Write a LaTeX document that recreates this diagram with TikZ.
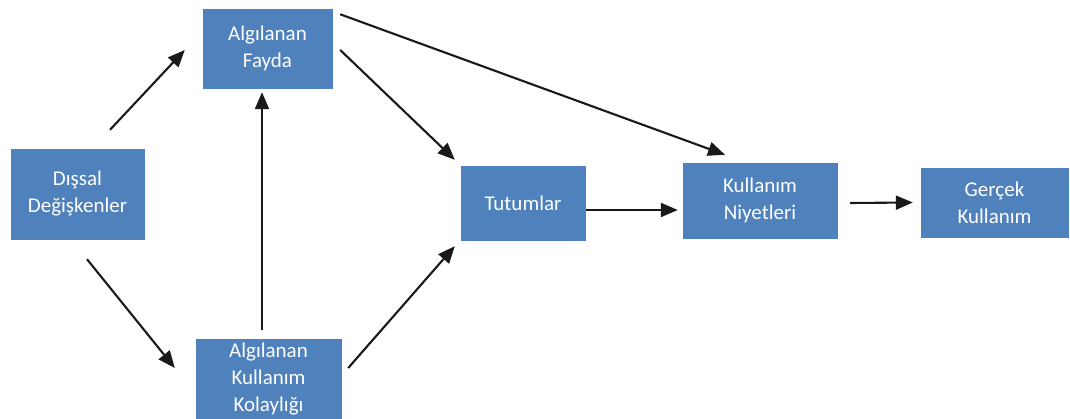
\documentclass[tikz,border=0pt]{standalone}
\usepackage{fontspec}
\setmainfont{Carlito}
\usepackage{xcolor}
\usetikzlibrary{arrows.meta}

\definecolor{tamblue}{HTML}{4F81BD}

\begin{document}
\begin{tikzpicture}[
    x=1pt, y=1pt,
    font=\fontsize{21}{27}\selectfont,
    box/.style={fill=tamblue, draw=tamblue, text=white, align=center,
                inner sep=0pt},
    link/.style={-{Triangle[length=17pt,width=14pt]}, line width=2.1pt,
                 black!90},
    ]
\useasboundingbox (0,0) rectangle (1070,419);

% ---- constructs ----
\node[box, minimum width=133, minimum height=90] (dissal) at (77.5,225) {Dışsal\\Değişkenler};
\node[box, minimum width=129, minimum height=79] (fayda) at (267.5,370.5) {Algılanan\\Fayda};
\node[box, minimum width=145, minimum height=80] (kolay) at (268.5,40) {Algılanan\\Kullanım\\Kolaylığı};
\node[box, minimum width=124, minimum height=74] (tutum) at (523,216) {Tutumlar};
\node[box, minimum width=154, minimum height=75] (niyet) at (760,218.5) {Kullanım\\Niyetleri};
\node[box, minimum width=147, minimum height=69] (gercek) at (994.5,216.5) {Gerçek\\Kullanım};

% ---- edges ----
\draw[link] ([xshift=32.5pt,yshift=19pt]dissal.north) -- ([xshift=-18pt,yshift=-1.5pt]fayda.west);
\draw[link] ([xshift=9.5pt,yshift=-20pt]dissal.south) -- ([xshift=-21pt,yshift=11pt]kolay.west);
\draw[link] ([xshift=-6.5pt,yshift=9pt]kolay.north) -- ([xshift=-5.5pt,yshift=-4pt]fayda.south);
\draw[link] ([xshift=7pt,yshift=11pt]kolay.east) -- ([xshift=-6pt,yshift=-6pt]tutum.south west);
\draw[link] ([xshift=8pt,yshift=-1.5pt]fayda.east) -- ([xshift=-6pt,yshift=6pt]tutum.north west);
\draw[link] ([xshift=8pt,yshift=-5.5pt]fayda.north east) -- ([xshift=-35pt,yshift=8pt]niyet.north);
\draw[link] ([xshift=1pt,yshift=-7pt]tutum.east) -- ([xshift=-5pt,yshift=-9.5pt]niyet.west);
\draw[link] ([xshift=13pt,yshift=-2.5pt]niyet.east) -- ([xshift=-8pt]gercek.west);
\end{tikzpicture}
\end{document}
